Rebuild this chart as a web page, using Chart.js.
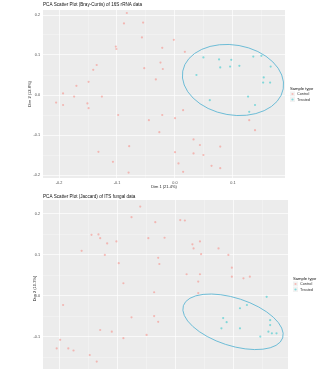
<!DOCTYPE html>
<html>
<head>
<meta charset="utf-8">
<script src="https://cdn.jsdelivr.net/npm/chart.js@4.4.1/dist/chart.umd.min.js"></script>
<style>
  html, body { margin: 0; padding: 0; background: #fff; overflow: hidden; }
  #wrap { position: relative; width: 320px; height: 369px; overflow: hidden; }
  .box { position: absolute; left: 0; width: 320px; }
  #box1 { top: 0; height: 190px; }
  #box2 { top: 189px; height: 200px; }
</style>
</head>
<body>
<div id="wrap">
  <div class="box" id="box1"><canvas id="pcaTop"></canvas></div>
  <div class="box" id="box2"><canvas id="pcaBottom"></canvas></div>
</div>
<script>
// --- TOP PANEL VALUES ---
const topTitle = "PCA Scatter Plot (Bray-Curtis) of 16S rRNA data";
const topGroups = ["Control", "Treated"];
const topXTicks = [-0.2, -0.1, 0.0, 0.1];
const topYTicks = [-0.2, -0.1, 0.0, 0.1, 0.2];
const topControl = [
  [-0.083, 0.205], [-0.088, 0.179], [-0.055, 0.181], [-0.057, 0.144], [-0.002, 0.138],
  [-0.102, 0.121], [-0.101, 0.115], [-0.022, 0.118], [0.017, 0.108], [-0.135, 0.075],
  [-0.141, 0.063], [-0.025, 0.081], [-0.021, 0.065], [-0.053, 0.067], [-0.033, 0.039],
  [-0.149, 0.033], [-0.170, 0.023], [-0.193, 0.004], [-0.174, -0.004], [-0.126, -0.004],
  [-0.205, -0.019], [-0.193, -0.025], [-0.151, -0.021], [-0.149, -0.033], [-0.098, -0.050],
  [-0.022, -0.050], [0.000, -0.058], [0.014, -0.038], [0.128, -0.063], [-0.045, -0.063],
  [-0.027, -0.093], [0.138, -0.088], [-0.132, -0.142], [-0.079, -0.128], [0.032, -0.111],
  [0.043, -0.125], [0.078, -0.129], [0.000, -0.143], [0.032, -0.146], [0.049, -0.150],
  [-0.107, -0.167], [0.006, -0.171], [0.063, -0.177], [0.078, -0.183], [0.014, -0.192],
  [-0.080, -0.194]
];
const topTreated = [
  [0.049, 0.094], [0.076, 0.089], [0.097, 0.088], [0.111, 0.073], [0.135, 0.096],
  [0.149, 0.098], [0.165, 0.071], [0.078, 0.069], [0.095, 0.071], [0.037, 0.050],
  [0.153, 0.044], [0.164, 0.031], [0.152, 0.031], [0.060, -0.013], [0.126, -0.004],
  [0.138, -0.025], [0.128, -0.042]
];
const topEllipse = { cx: 0.100, cy: 0.0375, rx: 0.088, ry: 0.0875, tilt: 10 };

// --- BOTTOM PANEL VALUES ---
const bottomTitle = "PCA Scatter Plot (Jaccard) of ITS fungal data";
const bottomGroups = ["Control", "Treated"];
const bottomXTicks = [-0.2, -0.1, 0.0, 0.1];
const bottomYTicks = [-0.1, 0.0, 0.1, 0.2];
const bottomControl = [
  [-0.060, 0.218], [-0.075, 0.192], [0.009, 0.185], [0.017, 0.184], [-0.034, 0.180],
  [-0.144, 0.149], [-0.132, 0.150], [-0.129, 0.141], [-0.046, 0.141], [-0.018, 0.142],
  [-0.117, 0.128], [-0.101, 0.133], [0.030, 0.126], [0.043, 0.133], [0.032, 0.116],
  [0.075, 0.116], [-0.161, 0.110], [-0.121, 0.100], [0.045, 0.102], [0.092, 0.100],
  [-0.029, 0.093], [-0.027, 0.078], [-0.097, 0.080], [0.098, 0.069], [0.020, 0.053],
  [0.043, 0.053], [0.098, 0.047], [0.118, 0.043], [0.129, 0.047], [0.040, 0.035],
  [-0.089, 0.031], [-0.036, 0.009], [0.040, 0.007], [-0.193, -0.022], [-0.075, -0.052],
  [-0.036, -0.049], [-0.029, -0.063], [-0.129, -0.083], [-0.089, -0.103], [-0.109, -0.087],
  [-0.198, -0.107], [-0.204, -0.128], [-0.184, -0.128], [-0.175, -0.133], [-0.147, -0.144],
  [-0.135, -0.160], [-0.049, -0.095]
];
const bottomTreated = [
  [0.158, -0.002], [0.124, -0.022], [0.112, -0.030], [0.083, -0.054], [0.089, -0.064],
  [0.164, -0.059], [0.112, -0.079], [0.164, -0.071], [0.161, -0.087], [0.167, -0.091],
  [0.175, -0.091], [0.080, -0.079], [0.147, -0.099]
];
const bottomEllipse = { cx: 0.100, cy: -0.063, rx: 0.090, ry: 0.058, tilt: 18 };

// --- SHARED LOOK ---
const FONT = "'Liberation Sans', Arial, sans-serif";
const groupColors = ['rgba(248,118,109,0.45)', 'rgba(0,191,196,0.45)'];
const legendTitle = "Sample type";

function toPoints(pairs) {
  return pairs.map(p => ({ x: p[0], y: p[1] }));
}

// majors from the tick list, ggplot style minor lines halfway between them
function buildTicks(majors) {
  return (scale) => {
    const sorted = majors.slice().sort((a, b) => a - b);
    const step = sorted[1] - sorted[0];
    const list = sorted.map(v => ({ value: v }));
    list.push({ value: sorted[0] - step / 2, minor: true });
    sorted.forEach(v => list.push({ value: v + step / 2, minor: true }));
    scale.ticks = list
      .filter(t => t.value >= scale.min && t.value <= scale.max)
      .sort((a, b) => a.value - b.value);
  };
}

const ggDecor = {
  id: 'ggDecor',
  beforeDraw(chart, args, opts) {
    const { ctx, chartArea: a } = chart;
    ctx.save();
    ctx.fillStyle = '#fff';
    ctx.fillRect(0, 0, chart.width, chart.height);
    ctx.fillStyle = '#ECECEC';
    ctx.fillRect(a.left, a.top, a.right - a.left, a.bottom - a.top);
    ctx.restore();
  },
  afterDatasetsDraw(chart, args, opts) {
    const { ctx, chartArea: a } = chart;
    const xs = chart.scales.x, ys = chart.scales.y;
    const e = opts.ellipse;
    const cx = xs.getPixelForValue(e.cx), cy = ys.getPixelForValue(e.cy);
    const rx = Math.abs(xs.getPixelForValue(e.cx + e.rx) - cx);
    const ry = Math.abs(ys.getPixelForValue(e.cy + e.ry) - cy);
    ctx.save();
    ctx.beginPath();
    ctx.rect(a.left, a.top, a.right - a.left, a.bottom - a.top);
    ctx.clip();
    ctx.beginPath();
    ctx.ellipse(cx, cy, rx, ry, e.tilt * Math.PI / 180, 0, Math.PI * 2);
    ctx.strokeStyle = '#5FB7D4';
    ctx.lineWidth = 0.9;
    ctx.stroke();
    ctx.restore();
  },
  afterDraw(chart, args, opts) {
    const { ctx, chartArea: a } = chart;
    ctx.save();
    // plot title
    ctx.fillStyle = '#111';
    ctx.font = `4.6px ${FONT}`;
    ctx.textBaseline = 'middle';
    ctx.textAlign = 'left';
    ctx.fillText(opts.title, a.left, opts.titleY);
    // legend on the right
    const lx = a.right + 5;
    let ly = opts.legendY;
    ctx.font = `4.2px ${FONT}`;
    ctx.fillText(legendTitle, lx, ly);
    chart.data.datasets.forEach((ds, i) => {
      const ky = ly + 5 + i * 5.5;
      ctx.fillStyle = '#F2F2F2';
      ctx.fillRect(lx, ky - 2.5, 5, 5);
      ctx.beginPath();
      ctx.arc(lx + 2.5, ky, 1.1, 0, Math.PI * 2);
      ctx.fillStyle = ds.backgroundColor;
      ctx.fill();
      ctx.fillStyle = '#333';
      ctx.font = `3.8px ${FONT}`;
      ctx.fillText(ds.label, lx + 7, ky);
    });
    ctx.restore();
  }
};

function gridStyle() {
  return {
    color: c => (c.tick && c.tick.minor) ? 'rgba(255,255,255,0.75)' : '#ffffff',
    lineWidth: c => (c.tick && c.tick.minor) ? 0.35 : 0.7,
    drawTicks: false
  };
}

function makeChart(canvasId, cfg) {
  return new Chart(document.getElementById(canvasId), {
    type: 'scatter',
    data: {
      datasets: [
        { label: cfg.groups[0], data: toPoints(cfg.red), backgroundColor: groupColors[0], borderWidth: 0, pointRadius: 1.1 },
        { label: cfg.groups[1], data: toPoints(cfg.teal), backgroundColor: groupColors[1], borderWidth: 0, pointRadius: 1.1 }
      ]
    },
    options: {
      responsive: true,
      maintainAspectRatio: false,
      animation: false,
      layout: { padding: { top: cfg.areaTop, right: cfg.padRight, left: 0, bottom: 0 } },
      plugins: {
        legend: { display: false },
        tooltip: { enabled: false },
        ggDecor: { title: cfg.title, titleY: cfg.titleY, legendY: cfg.legendY, ellipse: cfg.ellipse }
      },
      scales: {
        x: {
          type: 'linear',
          min: cfg.xMin, max: cfg.xMax,
          afterBuildTicks: buildTicks(cfg.xTicks),
          afterFit: s => { s.height = cfg.xAxisH; },
          grid: gridStyle(),
          border: { display: false },
          ticks: {
            padding: 3,
            color: '#4D4D4D',
            font: { family: FONT, size: 3.8 },
            maxRotation: 0,
            autoSkip: false,
            callback: (v, i, t) => t[i].minor ? '' : v.toFixed(1)
          },
          title: { display: true, text: cfg.xTitle, color: '#222', font: { family: FONT, size: 4 }, padding: { top: 0, bottom: 1 } }
        },
        y: {
          type: 'linear',
          min: cfg.yMin, max: cfg.yMax,
          afterBuildTicks: buildTicks(cfg.yTicks),
          afterFit: s => { s.width = 43; },
          grid: gridStyle(),
          border: { display: false },
          ticks: {
            padding: 3,
            color: '#4D4D4D',
            font: { family: FONT, size: 3.8 },
            autoSkip: false,
            callback: (v, i, t) => t[i].minor ? '' : v.toFixed(1)
          },
          title: { display: true, text: cfg.yTitle, color: '#222', font: { family: FONT, size: 4 }, padding: { top: cfg.yTitlePad, bottom: 0 } }
        }
      }
    },
    plugins: [ggDecor]
  });
}

makeChart('pcaTop', {
  groups: topGroups, red: topControl, teal: topTreated,
  title: topTitle, titleY: 5, legendY: 89, ellipse: topEllipse,
  areaTop: 10, padRight: 35, xAxisH: 12,
  xMin: -0.2276, xMax: 0.1897, yMin: -0.2075, yMax: 0.2125,
  xTicks: topXTicks, yTicks: topYTicks,
  xTitle: "Dim 1 (21.4%)", yTitle: "Dim 2 (12.8%)", yTitlePad: 27
});

makeChart('pcaBottom', {
  groups: bottomGroups, red: bottomControl, teal: bottomTreated,
  title: bottomTitle, titleY: 8, legendY: 90, ellipse: bottomEllipse,
  areaTop: 11, padRight: 32, xAxisH: 12,
  xMin: -0.2276, xMax: 0.1948, yMin: -0.1976, yMax: 0.234,
  xTicks: bottomXTicks, yTicks: bottomYTicks,
  xTitle: "Dim 1 (18.9%)", yTitle: "Dim 2 (10.3%)", yTitlePad: 32
});
</script>
</body>
</html>
